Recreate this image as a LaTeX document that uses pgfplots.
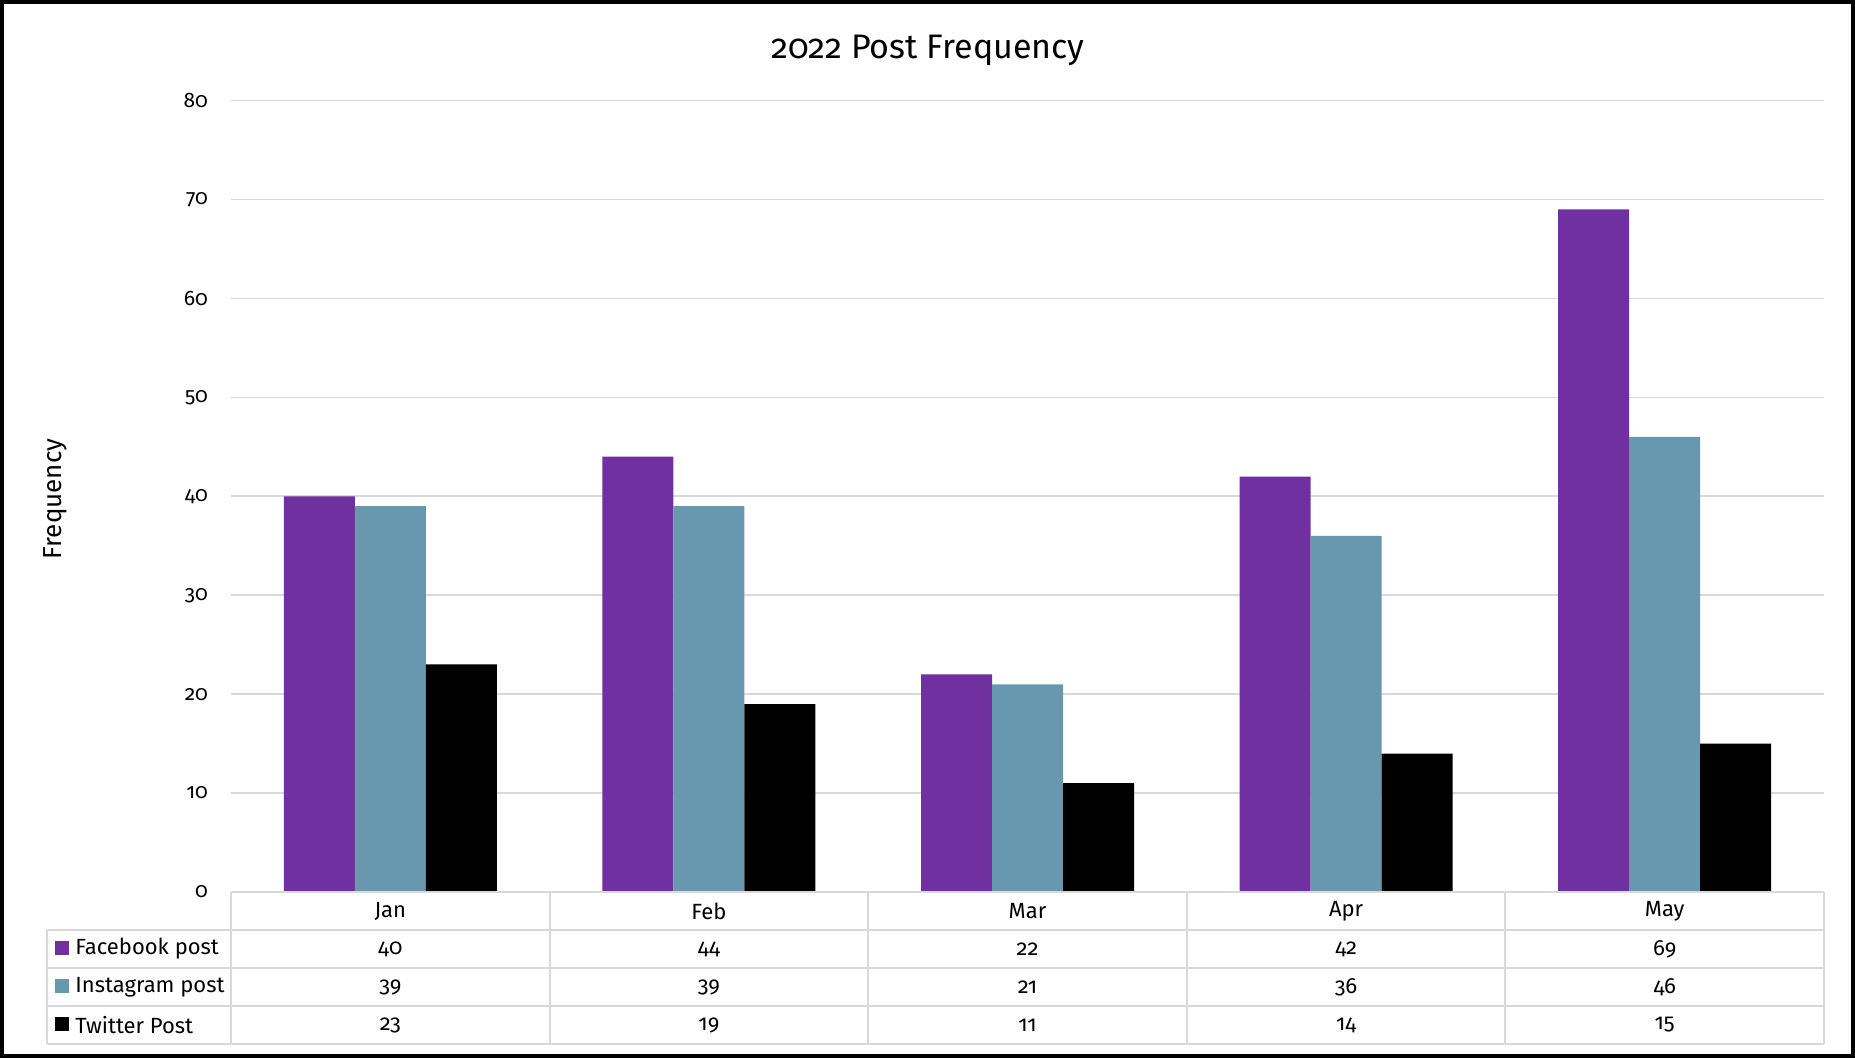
\documentclass[border=0pt]{standalone}
\usepackage{fontspec}
\setmainfont{Fira Sans}[Numbers=OldStyle]
\usepackage{pgfplots}
\pgfplotsset{compat=1.18}
\definecolor{fb}{HTML}{7030A0}
\definecolor{ig}{HTML}{6898B0}
\definecolor{gridc}{HTML}{D9D9D9}
\begin{document}
\begin{tikzpicture}
\begin{axis}[
  scale only axis, width=796.5pt, height=395.7pt,
  xmin=-0.5, xmax=4.5, ymin=0, ymax=80, ytick={0,10,...,80},
  xtick=\empty,
  ymajorgrids, grid style={gridc, line width=0.8pt},
  axis line style={draw=none},
  major tick length=0pt,
  ybar=0pt, bar width=35.5pt,
  /pgf/number format/assume math mode=true,
  yticklabel style={font=\fontsize{10.5}{12}\selectfont, xshift=-8pt},
  clip=false,
]
\addplot[draw=none, fill=fb] coordinates {(0,40) (1,44) (2,22) (3,42) (4,69)};
\addplot[draw=none, fill=ig] coordinates {(0,39) (1,39) (2,21) (3,36) (4,46)};
\addplot[draw=none, fill=black] coordinates {(0,23) (1,19) (2,11) (3,14) (4,15)};
\coordinate (O) at (axis cs:-0.5,0);
\end{axis}
\tikzset{tf/.style={font=\fontsize{11}{13}\selectfont}}
% data table lines
\draw[gridc, line width=1pt] (O) -- ++(796.5pt,0);
\foreach \r in {1,2,3,4} {
  \draw[gridc, line width=1pt] ([xshift=-92pt, yshift=-\r*19pt]O) -- ++(888.5pt,0);
}
\foreach \c in {0,...,5} {
  \draw[gridc, line width=1pt] ([xshift=\c*159.3pt]O) -- ++(0,-76pt);
}
\draw[gridc, line width=1pt] ([xshift=-92pt, yshift=-19pt]O) -- ++(0,-57pt);
% header and values
\foreach \m [count=\i from 0] in {Jan,Feb,Mar,Apr,May} {
  \node[tf] at ([xshift=\i*159.3pt+79.65pt, yshift=-9.5pt]O) {\m};
}
\foreach \v [count=\i from 0] in {40,44,22,42,69} {
  \node[tf] at ([xshift=\i*159.3pt+79.65pt, yshift=-28.5pt]O) {\v};
}
\foreach \v [count=\i from 0] in {39,39,21,36,46} {
  \node[tf] at ([xshift=\i*159.3pt+79.65pt, yshift=-47.5pt]O) {\v};
}
\foreach \v [count=\i from 0] in {23,19,11,14,15} {
  \node[tf] at ([xshift=\i*159.3pt+79.65pt, yshift=-66.5pt]O) {\v};
}
% legend keys in the table
\foreach \col/\lab/\r in {fb/Facebook post/1, ig/Instagram post/2, black/Twitter Post/3} {
  \fill[\col] ([xshift=-88pt, yshift=-\r*19pt-5.5pt]O) rectangle ++(7pt,-7pt);
  \node[anchor=west, inner sep=0pt, font=\fontsize{11}{13}\selectfont] at ([xshift=-78pt, yshift=-\r*19pt-9.5pt]O) {\lab};
}
% title and y label
\node[font=\fontsize{17}{20}\selectfont] at ([xshift=348.5pt, yshift=421pt]O) {2022 Post Frequency};
\node[rotate=90, font=\fontsize{13}{15}\selectfont] at ([xshift=-88pt, yshift=196.5pt]O) {Frequency};
% outer frame
\path[use as bounding box] ([xshift=-115.5pt, yshift=-83pt]O) rectangle ([xshift=812pt, yshift=446pt]O);
\draw[line width=2pt] ([xshift=-114.5pt, yshift=-82pt]O) rectangle ([xshift=811pt, yshift=445pt]O);
\end{tikzpicture}
\end{document}
